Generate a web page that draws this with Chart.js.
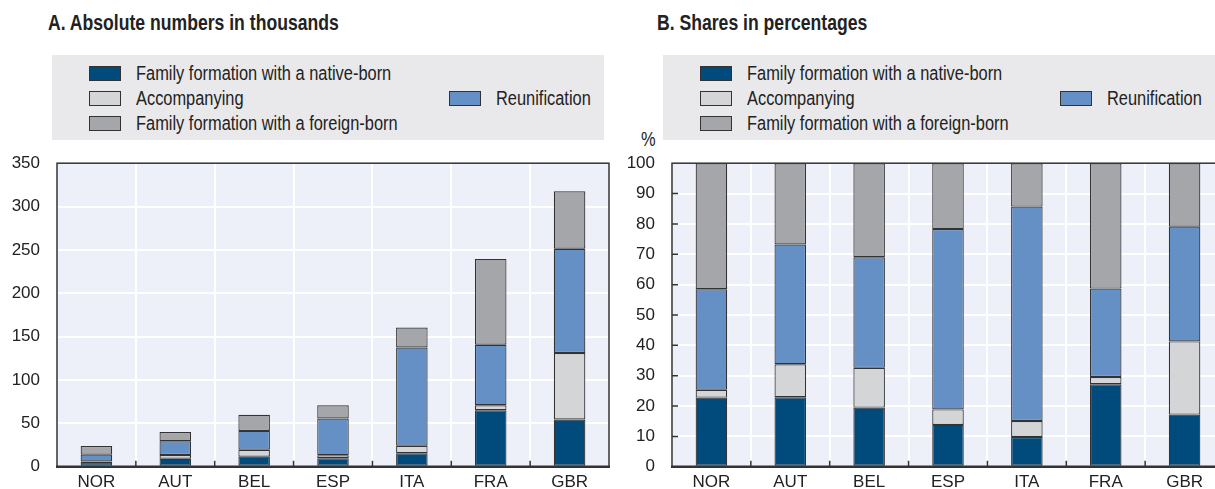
<!DOCTYPE html>
<html>
<head>
<meta charset="utf-8">
<script src="https://cdn.jsdelivr.net/npm/chart.js@4"></script>
<style>
    body { margin: 0; width: 1215px; height: 489px; overflow: hidden; position: relative; background: #fff;
           font-family: "Liberation Sans Narrow", "Arial Narrow", "Liberation Sans", sans-serif; color: #222; }
    .narrow { display: inline-block; transform: scaleX(0.82); transform-origin: left center; white-space: nowrap; }
    .title { position: absolute; top: 11px; font-size: 22px; font-weight: bold; line-height: 24px; color: #222; }
    .title .narrow { transform: scaleX(0.8); }
    .legend { position: absolute; top: 55px; width: 552px; height: 85px; background: #e9e9eb; }
    .item { position: absolute; height: 25px; display: flex; align-items: center; font-size: 20px; white-space: nowrap; }
    .swatch { width: 30px; height: 13px; border: 1px solid #333; margin-right: 15px; flex: none; }
    .unit { position: absolute; font-size: 20px; line-height: 20px; }
    canvas { position: absolute; top: 136px; }
</style>
</head>
<body>
<div class="title" style="left:48px"><span class="narrow">A. Absolute numbers in thousands</span></div>
<div class="title" style="left:657px"><span class="narrow">B. Shares in percentages</span></div>
<div class="legend" id="legend-a" style="left:52px"></div>
<div class="legend" id="legend-b" style="left:663px"></div>
<div class="unit" style="left:641px;top:129px"><span class="narrow">%</span></div>
<canvas id="chart-a" width="620" height="358" style="left:0px"></canvas>
<canvas id="chart-b" width="620" height="358" style="left:615px"></canvas>
<script>
// categories and series
const countries = ["NOR", "AUT", "BEL", "ESP", "ITA", "FRA", "GBR"];
const seriesNames = [
    "Family formation with a native-born",
    "Accompanying",
    "Reunification",
    "Family formation with a foreign-born",
];
const seriesColors = ["#004b7c", "#d4d5d7", "#6590c5", "#a5a6aa"];

// Panel A: thousands
const absNative = [5.5, 9.2, 11.7, 9.8, 15.7, 65.2, 54.6];
const absAccompanying = [0.6, 4.4, 7.9, 3.6, 8.5, 5.8, 76.6];
const absReunification = [7.9, 15.8, 21.8, 42.2, 113.4, 69.7, 120.1];
const absForeign = [10.0, 10.7, 18.6, 15.4, 23.0, 99.0, 66.4];

// Panel B: percentages
const shareNative = [22.8, 22.9, 19.5, 13.8, 9.8, 27.2, 17.2];
const shareAccompanying = [2.6, 10.9, 13.1, 5.1, 5.3, 2.4, 24.1];
const shareReunification = [33.1, 39.4, 36.4, 59.4, 70.6, 29.1, 37.8];
const shareForeign = [41.5, 26.8, 31.0, 21.7, 14.3, 41.3, 20.9];

const absTicks = [0, 50, 100, 150, 200, 250, 300, 350];
const shareTicks = [0, 10, 20, 30, 40, 50, 60, 70, 80, 90, 100];

const FONT = "'Liberation Sans Narrow', 'Arial Narrow', 'Liberation Sans', sans-serif";
const AXIS = "#333333";

// legend: three rows on the left, reunification on the right of the middle row
const buildLegend = (id) => {
    const box = document.getElementById(id);
    const spots = [
        { left: 37, top: 6 },
        { left: 37, top: 31 },
        { left: 397, top: 31 },
        { left: 37, top: 56 },
    ];
    seriesNames.forEach((name, i) => {
        const item = document.createElement("div");
        item.className = "item";
        item.style.left = spots[i].left + "px";
        item.style.top = spots[i].top + "px";
        item.innerHTML = `<span class="swatch" style="background:${seriesColors[i]}"></span><span class="narrow">${name}</span>`;
        box.appendChild(item);
    });
};

// plot background, frame, inward ticks
const framePlugin = {
    id: "frame",
    beforeDraw(chart) {
        const { ctx, chartArea: a } = chart;
        ctx.save();
        ctx.fillStyle = "#edf0f8";
        ctx.fillRect(a.left, a.top, a.right - a.left, a.bottom - a.top);
        ctx.restore();
    },
    afterDatasetsDraw(chart, args, opts) {
        const { ctx, chartArea: a, scales } = chart;
        ctx.save();
        ctx.strokeStyle = AXIS;
        ctx.lineWidth = 1.5;
        ctx.strokeRect(a.left, a.top, a.right - a.left, a.bottom - a.top);
        ctx.lineWidth = 2.5;
        ctx.beginPath();
        ctx.moveTo(a.left - 1, a.bottom);
        ctx.lineTo(a.right + 1, a.bottom);
        ctx.stroke();
        ctx.lineWidth = 1.5;
        ctx.beginPath();
        for (let i = 0; i < countries.length - 1; i++) {
            const x = (scales.x.getPixelForValue(i) + scales.x.getPixelForValue(i + 1)) / 2;
            ctx.moveTo(x, a.bottom);
            ctx.lineTo(x, a.bottom - 6);
        }
        if (opts.yTicks) {
            opts.yTicks.slice(1, -1).forEach((v) => {
                const y = scales.y.getPixelForValue(v);
                ctx.moveTo(a.left, y);
                ctx.lineTo(a.left + 6, y);
            });
        }
        ctx.stroke();
        ctx.restore();
    },
};

const makeChart = (id, seriesData, max, step, ticks, withYTicks) => {
    return new Chart(document.getElementById(id), {
        type: "bar",
        data: {
            labels: countries,
            datasets: seriesData.map((values, i) => ({
                label: seriesNames[i],
                data: values,
                backgroundColor: seriesColors[i],
                borderColor: AXIS,
                borderWidth: 1.2,
                borderSkipped: false,
                barPercentage: 0.4,
                categoryPercentage: 1,
            })),
        },
        options: {
            responsive: false,
            animation: false,
            layout: { autoPadding: false, padding: { top: 0, right: 11, left: 0, bottom: 0 } },
            plugins: {
                legend: { display: false },
                tooltip: { enabled: false },
                frame: { yTicks: withYTicks ? ticks : null },
            },
            scales: {
                x: {
                    stacked: true,
                    afterFit: (scale) => { scale.height = 23; },
                    grid: { color: "#ffffff", lineWidth: 2, drawTicks: false, offset: true },
                    border: { display: false },
                    ticks: { color: "#222", padding: 5, font: { family: FONT, size: 17 } },
                },
                y: {
                    stacked: true,
                    min: 0,
                    max: max,
                    afterFit: (scale) => { scale.width = 57; },
                    afterBuildTicks: (scale) => { scale.ticks = ticks.map((v) => ({ value: v })); },
                    grid: { color: "#ffffff", lineWidth: 2, drawTicks: false },
                    border: { display: false },
                    ticks: { stepSize: step, color: "#222", padding: 17, font: { family: FONT, size: 17 } },
                },
            },
        },
        plugins: [framePlugin],
    });
};

buildLegend("legend-a");
buildLegend("legend-b");
makeChart("chart-a", [absNative, absAccompanying, absReunification, absForeign], 350, 50, absTicks, false);
makeChart("chart-b", [shareNative, shareAccompanying, shareReunification, shareForeign], 100, 10, shareTicks, true);
</script>
</body>
</html>
